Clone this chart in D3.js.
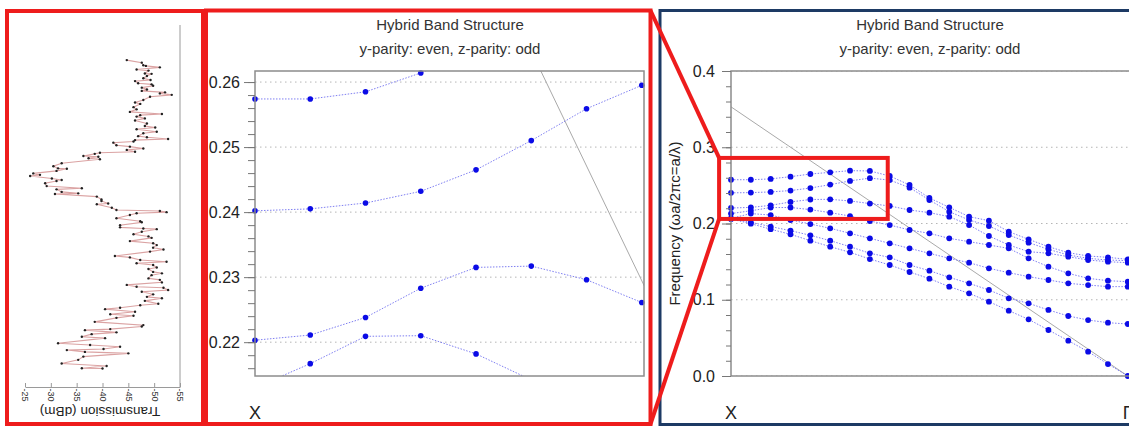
<!DOCTYPE html>
<html>
<head>
<meta charset="utf-8">
<script src="https://cdn.jsdelivr.net/npm/d3@7"></script>
<style>
  body { margin: 0; background: #fff; }
  svg { display: block; font-family: Arial, "Liberation Sans", sans-serif; }
</style>
</head>
<body>
<svg id="fig" width="1129" height="428"></svg>
<script>
//* Data *//

// transmission spectrum (drawn rotated in the left panel)
const TRANS_WAVELENGTH = [
  1590.3, 1589.6, 1588.9, 1588.7, 1588.3, 1587.7, 1587.4, 1586.6, 1586.5, 1585.9,
  1585.3, 1584.8, 1584.5, 1583.9, 1583.6, 1583.2, 1582.7, 1582.2, 1581.8, 1581.4,
  1581.1, 1580.7, 1580.2, 1579.3, 1578.6, 1578.2, 1577.3, 1576.7, 1576.0, 1575.4,
  1575.1, 1574.7, 1574.2, 1573.6, 1572.8, 1572.1, 1571.7, 1571.2, 1570.5, 1570.1,
  1569.3, 1569.0, 1568.5, 1568.2, 1567.8, 1567.5, 1566.8, 1566.4, 1565.9, 1565.5,
  1565.0, 1564.7, 1564.4, 1563.8, 1563.6, 1563.2, 1562.9, 1561.8, 1561.0, 1560.4,
  1560.3, 1559.7, 1559.0, 1558.6, 1558.3, 1557.6, 1557.2, 1556.9, 1556.3, 1555.5,
  1554.9, 1554.6, 1553.9, 1553.5, 1553.3, 1552.6, 1551.8, 1551.4, 1550.7, 1550.5,
  1549.5, 1548.9, 1548.6, 1548.3, 1548.0, 1547.5, 1546.6, 1545.8, 1545.5, 1544.7,
  1544.1, 1543.8, 1543.6, 1542.9, 1542.2, 1541.6, 1541.2, 1540.3, 1539.7, 1539.2,
  1538.5, 1538.0, 1537.4, 1536.2, 1535.8, 1535.1, 1534.6, 1534.2, 1533.7, 1533.0,
  1532.6, 1531.8, 1531.4, 1530.9, 1530.0, 1529.6, 1528.9, 1528.2, 1527.7, 1527.4,
  1526.8, 1526.3, 1525.6, 1524.9, 1524.5, 1523.8, 1523.0, 1522.6, 1521.9, 1521.5,
  1520.8, 1520.1, 1519.7, 1519.1, 1518.0, 1517.1, 1516.7, 1516.0, 1515.7, 1515.1,
  1514.6, 1513.9, 1513.5, 1512.1, 1511.6, 1511.1, 1510.5, 1510.2, 1509.7, 1509.3,
  1508.4, 1507.5, 1506.5, 1505.8, 1505.2, 1505.1
];
const TRANS_DBM = [
  -44.7, -47.6, -47.9, -48.4, -51.1, -46.6, -48.9, -48.2, -49.5, -48.6,
  -47.9, -49.3, -46.3, -46.9, -49.5, -49.8, -47.6, -48.6, -47.6, -52.1,
  -51.1, -53.4, -49.2, -47.9, -46.3, -47.3, -46.0, -46.6, -45.3, -51.5,
  -47.3, -46.6, -48.2, -46.3, -48.6, -48.2, -50.2, -46.6, -50.5, -47.9,
  -46.9, -48.6, -52.7, -46.3, -46.0, -42.1, -42.7, -45.3, -47.9, -44.7,
  -46.3, -39.5, -38.5, -36.3, -39.2, -37.3, -39.5, -32.1, -30.5, -31.4,
  -33.1, -31.1, -26.6, -27.9, -26.0, -30.2, -32.1, -31.1, -28.9, -29.2,
  -36.0, -31.1, -32.1, -35.3, -30.8, -38.9, -39.8, -39.8, -41.1, -38.9,
  -41.8, -42.7, -51.1, -52.4, -46.6, -45.3, -42.7, -47.3, -47.6, -43.4,
  -43.4, -47.9, -50.5, -47.6, -46.0, -48.9, -49.5, -45.3, -49.8, -50.5,
  -49.8, -51.8, -49.2, -42.4, -45.3, -47.3, -52.4, -46.6, -49.8, -50.5,
  -48.9, -49.8, -51.5, -49.5, -48.9, -51.1, -51.5, -44.7, -46.6, -51.8,
  -52.7, -47.6, -49.8, -48.6, -51.5, -48.2, -50.8, -47.3, -43.4, -40.5,
  -46.3, -41.5, -46.0, -42.7, -38.5, -47.9, -47.6, -41.5, -36.6, -42.7,
  -37.9, -36.0, -40.5, -31.4, -37.6, -43.4, -40.2, -33.1, -36.6, -45.0,
  -36.3, -35.3, -32.1, -40.8, -36.0, -40.0
];
const TRANS_TICKS = [-25, -30, -35, -40, -45, -50, -55];

// band structure, k-point index from X (0) to Gamma (20)
const K_INDEX = [0, 1, 2, 3, 4, 5, 6, 7, 8, 9, 10, 11, 12, 13, 14, 15, 16, 17, 18, 19, 20];
const BAND_A = [0.2574, 0.2574, 0.2585, 0.2614, 0.2649, 0.2671, 0.2693, 0.2689, 0.2623, 0.2505, 0.2335,
                0.2212, 0.2090, 0.2037, 0.1893, 0.1792, 0.1696, 0.1617, 0.1574, 0.1556, 0.1530];
const BAND_B = [0.2402, 0.2405, 0.2414, 0.2432, 0.2465, 0.2510, 0.2559, 0.2595, 0.2570, 0.2470, 0.2308,
                0.2155, 0.2046, 0.1967, 0.1849, 0.1749, 0.1661, 0.1587, 0.1543, 0.1521, 0.1513];
const BAND_C = [0.2203, 0.2211, 0.2238, 0.2283, 0.2315, 0.2317, 0.2296, 0.2261, 0.2230, 0.2177, 0.2142,
                0.2090, 0.1980, 0.1836, 0.1718, 0.1631, 0.1609, 0.1565, 0.1521, 0.1499, 0.1486];
const BAND_D = [0.2130, 0.2167, 0.2209, 0.2210, 0.2182, 0.2142, 0.2098, 0.2033, 0.1980, 0.1915, 0.1871,
                0.1805, 0.1762, 0.1718, 0.1674, 0.1543, 0.1434, 0.1346, 0.1281, 0.1250, 0.1237];
const BAND_E = [0.2068, 0.2130, 0.2111, 0.2046, 0.1993, 0.1937, 0.1871, 0.1805, 0.1740, 0.1674, 0.1609,
                0.1543, 0.1486, 0.1412, 0.1355, 0.1303, 0.1259, 0.1215, 0.1193, 0.1172, 0.1172];
const BAND_F = [0.2062, 0.2015, 0.1960, 0.1906, 0.1845, 0.1775, 0.1696, 0.1609, 0.1556, 0.1456, 0.1381,
                0.1294, 0.1215, 0.1128, 0.1019, 0.0953, 0.0866, 0.0787, 0.0734, 0.0699, 0.0682];
const BAND_G = [0.2058, 0.1998, 0.1925, 0.1858, 0.1775, 0.1696, 0.1622, 0.1534, 0.1456, 0.1364, 0.1277,
                0.1172, 0.1084, 0.0975, 0.0857, 0.0743, 0.0603, 0.0463, 0.0319, 0.0157, 0.0000];
const BANDS = [BAND_A, BAND_B, BAND_C, BAND_D, BAND_E, BAND_F, BAND_G];

// light line
const LIGHT_K = [0, 20];
const LIGHT_FREQ = [0.353, 0];

const FULL_TICKS = [0, 0.1, 0.2, 0.3, 0.4];
const ZOOM_TICKS = [0.22, 0.23, 0.24, 0.25, 0.26];
const SYMMETRY_K = [0, 20];
const SYMMETRY_LABELS = ['X', '\u0393'];
const TITLE = 'Hybrid Band Structure';
const SUBTITLE = 'y-parity: even, z-parity: odd';
const Y_LABEL = 'Frequency (\u03c9a/2\u03c0c=a/\u03bb)';

// region of the full band plot shown magnified in the middle panel
const ZOOM_BOX_K = [-0.6, 7.9];
const ZOOM_BOX_F = [0.206, 0.286];

const svg = d3.select('#fig');

//* Panel 1: transmission (rotated) *//
const tx = d3.scaleLinear().domain([-25, -55]).range([25, 180]);
const ty = d3.scaleLinear().domain([1500, 1600]).range([387, 25]);

const p1 = svg.append('g');

p1.append('line')
  .attr('x1', tx(-55)).attr('x2', tx(-55))
  .attr('y1', ty(1600)).attr('y2', ty(1500))
  .attr('stroke', '#9a9a9a');

const transAxis = p1.append('g')
  .attr('transform', `translate(0, ${ty(1500)})`)
  .call(d3.axisBottom(tx).tickValues(TRANS_TICKS).tickSize(-4).tickSizeOuter(0)
    .tickFormat(d => String(d)));
transAxis.select('.domain').attr('stroke', '#9a9a9a');
transAxis.selectAll('line').attr('stroke', '#9a9a9a');
transAxis.selectAll('text')
  .attr('y', 0).attr('x', 1.5).attr('dy', '0.35em')
  .attr('transform', 'rotate(90)')
  .style('text-anchor', 'start')
  .attr('font-size', 9)
  .attr('fill', '#333');

p1.append('text')
  .attr('transform', 'translate(100, 407) rotate(180)')
  .attr('text-anchor', 'middle')
  .attr('font-size', 13.5)
  .attr('fill', '#222')
  .text('Transmission (dBm)');

const transPts = TRANS_WAVELENGTH.map((w, i) => [w, TRANS_DBM[i]]);
p1.append('path')
  .datum(transPts)
  .attr('d', d3.line().x(d => tx(d[1])).y(d => ty(d[0])))
  .attr('fill', 'none')
  .attr('stroke', '#dba3a3')
  .attr('stroke-width', 1.1);

p1.selectAll('.tdot')
  .data(transPts)
  .enter()
  .append('circle')
  .attr('cx', d => tx(d[1]))
  .attr('cy', d => ty(d[0]))
  .attr('r', 1.2)
  .attr('fill', '#222');

//* Band panels *//
function drawBandPanel(cfg) {
  const g = svg.append('g');
  const x = d3.scaleLinear().domain(cfg.kDomain).range([cfg.left, cfg.right]);
  const y = d3.scaleLinear().domain(cfg.fDomain).range([376, 71]);
  const top = 71, bottom = 376;

  //Titles
  g.append('text')
    .attr('x', cfg.titleX).attr('y', 29.5)
    .attr('text-anchor', 'middle').attr('font-size', 15).attr('fill', '#333')
    .text(TITLE);
  g.append('text')
    .attr('x', cfg.titleX).attr('y', 53.5)
    .attr('text-anchor', 'middle').attr('font-size', 15).attr('fill', '#333')
    .text(SUBTITLE);

  //Clip
  g.append('clipPath').attr('id', cfg.id + '-clip')
    .append('rect')
    .attr('x', cfg.left).attr('y', top)
    .attr('width', cfg.right - cfg.left).attr('height', bottom - top);
  const plot = g.append('g').attr('clip-path', `url(#${cfg.id}-clip)`);

  //Grid
  plot.selectAll('.grid')
    .data(cfg.ticks)
    .enter()
    .append('line')
    .attr('x1', cfg.left).attr('x2', cfg.right)
    .attr('y1', d => y(d)).attr('y2', d => y(d))
    .attr('stroke', '#b5b5b5')
    .attr('stroke-dasharray', '1.5,3.5');

  //Light line
  plot.append('path')
    .datum(LIGHT_K.map((k, i) => [k, LIGHT_FREQ[i]]))
    .attr('d', d3.line().x(d => x(d[0])).y(d => y(d[1])))
    .attr('fill', 'none')
    .attr('stroke', '#a9a9a9')
    .attr('stroke-width', 1);

  //Bands
  plot.selectAll('.band')
    .data(BANDS)
    .enter()
    .append('path')
    .attr('d', d3.line().x((d, i) => x(K_INDEX[i])).y(d => y(d)))
    .attr('fill', 'none')
    .attr('stroke', '#7f7ff2')
    .attr('stroke-width', 1)
    .attr('stroke-dasharray', '1.5,1.5');

  //Dots
  const [f0, f1] = cfg.fDomain;
  const dots = BANDS.flatMap(band => band.map((f, i) => ({k: K_INDEX[i], f: f})))
    .filter(d => d.f >= f0 && d.f <= f1 && d.k <= cfg.kDomain[1]);
  g.selectAll('.dot')
    .data(dots)
    .enter()
    .append('circle')
    .attr('cx', d => x(d.k))
    .attr('cy', d => y(d.f))
    .attr('r', cfg.dotR)
    .attr('fill', '#0b0be6');

  //Frame
  g.append('rect')
    .attr('x', cfg.left).attr('y', top)
    .attr('width', cfg.frameRight - cfg.left).attr('height', bottom - top)
    .attr('fill', 'none')
    .attr('stroke', '#8c8c8c')
    .attr('stroke-width', 1.5);

  //Y-axis
  const minor = g.append('g')
    .attr('transform', `translate(${cfg.left}, 0)`)
    .call(d3.axisLeft(y).tickValues(cfg.minorTicks).tickSize(cfg.minorSize).tickFormat(''));
  minor.select('.domain').remove();
  minor.selectAll('line').attr('stroke', '#777');

  const major = g.append('g')
    .attr('transform', `translate(${cfg.left}, 0)`)
    .call(d3.axisLeft(y).tickValues(cfg.ticks).tickSize(cfg.majorSize)
      .tickPadding(cfg.pad).tickFormat(d3.format(cfg.fmt)));
  major.select('.domain').remove();
  major.selectAll('line').attr('stroke', '#777');
  major.selectAll('text')
    .attr('font-size', 16)
    .attr('font-family', 'Arial, "Liberation Sans", sans-serif')
    .attr('fill', '#222');

  //Symmetry point labels
  g.selectAll('.klabel')
    .data(SYMMETRY_K)
    .enter()
    .append('text')
    .attr('x', d => x(d))
    .attr('y', 419)
    .attr('text-anchor', 'middle')
    .attr('font-size', 18)
    .attr('fill', '#222')
    .text((d, i) => SYMMETRY_LABELS[i]);

  return {x: x, y: y, g: g};
}

// middle panel: magnified view
drawBandPanel({
  id: 'zoom', kDomain: [0, 7.04], fDomain: [0.2148, 0.2617],
  left: 255, right: 644, frameRight: 644, titleX: 450,
  ticks: ZOOM_TICKS, minorTicks: d3.range(0.216, 0.2617, 0.002),
  majorSize: 11, minorSize: 7, pad: 4, fmt: '.2f', dotR: 2.8
});

// right panel: full band structure
const full = drawBandPanel({
  id: 'full', kDomain: [0, 20.01], fDomain: [0, 0.4],
  left: 731, right: 1128, frameRight: 1160, titleX: 930,
  ticks: FULL_TICKS, minorTicks: d3.range(0, 0.4001, 0.02),
  majorSize: 9, minorSize: 5, pad: 7, fmt: '.1f', dotR: 2.9
});

full.g.append('text')
  .attr('transform', 'translate(680, 223.5) rotate(-90)')
  .attr('text-anchor', 'middle')
  .attr('font-size', 15)
  .attr('fill', '#222')
  .text(Y_LABEL);

//* Frames and zoom markers *//
svg.append('rect')
  .attr('x', 660).attr('y', 10.5).attr('width', 520).attr('height', 414)
  .attr('fill', 'none').attr('stroke', '#1d3a64').attr('stroke-width', 3);

svg.append('rect')
  .attr('x', 7).attr('y', 11).attr('width', 196).attr('height', 413)
  .attr('fill', 'none').attr('stroke', '#ee1c1c').attr('stroke-width', 4);

svg.append('rect')
  .attr('x', 206).attr('y', 10.5).attr('width', 444.5).attr('height', 413.5)
  .attr('fill', 'none').attr('stroke', '#ee1c1c').attr('stroke-width', 4);

const bx0 = full.x(ZOOM_BOX_K[0]), bx1 = full.x(ZOOM_BOX_K[1]);
const by0 = full.y(ZOOM_BOX_F[1]), by1 = full.y(ZOOM_BOX_F[0]);

svg.append('rect')
  .attr('x', bx0).attr('y', by0).attr('width', bx1 - bx0).attr('height', by1 - by0)
  .attr('fill', 'none').attr('stroke', '#ee1c1c').attr('stroke-width', 4);

svg.append('line')
  .attr('x1', 650.5).attr('y1', 10.5).attr('x2', bx0).attr('y2', by0)
  .attr('stroke', '#ee1c1c').attr('stroke-width', 4);
svg.append('line')
  .attr('x1', 650.5).attr('y1', 424).attr('x2', bx0).attr('y2', by1)
  .attr('stroke', '#ee1c1c').attr('stroke-width', 4);
</script>
</body>
</html>
